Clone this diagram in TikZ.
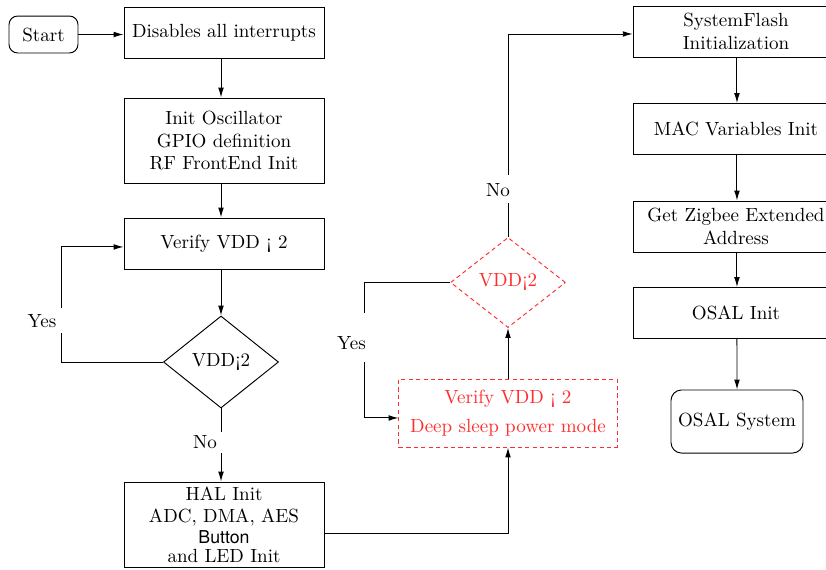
\documentclass[tikz,border=0pt]{standalone}
\usepackage{fontspec}
\newfontfamily\btnfont{TeX Gyre Heros}
\usetikzlibrary{shapes.geometric,arrows.meta}
\definecolor{myred}{RGB}{255,45,45}
\begin{document}
\begin{tikzpicture}[x=0.525pt,y=-0.525pt,
  line width=0.5pt,
  every node/.style={font=\fontsize{10}{12}\selectfont, align=center, inner sep=0pt},
  box/.style={draw, rectangle, minimum width=105pt, minimum height=26.8pt},
  rbox/.style={draw, rectangle, minimum width=108pt, minimum height=26.8pt},
  term/.style={draw, rectangle, rounded corners=4.5pt},
  dec/.style={draw, diamond, minimum width=60.4pt, minimum height=48.3pt},
  redbox/.style={draw=myred, text=myred, dash pattern=on 2.2pt off 1.7pt, rectangle, minimum width=114.5pt, minimum height=35.7pt},
  reddec/.style={draw=myred, text=myred, dash pattern=on 2.2pt off 1.7pt, diamond, minimum width=60.4pt, minimum height=47.3pt},
  arr/.style={-{Latex[length=5.2pt,width=3pt]}},
  lbl/.style={fill=white, inner xsep=3pt, inner ysep=0pt}
]
\useasboundingbox (0,0) rectangle (826,569);

% left column
\node[term, minimum width=36.2pt, minimum height=19.4pt] (start) at (43.5,34.5) {Start};
\node[box] (dis) at (224,32.5) {Disables all interrupts};
\node[box, minimum height=44.6pt] (osc) at (224,140.5) {Init Oscillator\\GPIO definition\\RF FrontEnd Init};
\node[box] (ver) at (224,243.5) {Verify VDD ¡ 2};
\node[dec] (dia) at (221,362) {VDD¡2};
\node[box, minimum height=44.6pt] (hal) at (224,524.5) {HAL Init\\[-0.3pt]ADC, DMA, AES\\[-1pt]{\btnfont\fontsize{9.3}{11}\selectfont Button}\\[-2pt]and LED Init};

% middle
\node[redbox] (rb) at (508,413) {Verify VDD ¡ 2\\[3pt]Deep sleep power mode};
\node[reddec] (rd) at (508,282.5) {VDD¡2};

% right column
\node[rbox] (sf) at (736,31.5) {SystemFlash\\Initialization};
\node[rbox] (mac) at (736,129) {MAC Variables Init};
\node[rbox] (zig) at (736,226.5) {Get Zigbee Extended\\Address};
\node[rbox] (osal) at (736,313) {OSAL Init};
\node[term, rounded corners=5.5pt, minimum width=69.3pt, minimum height=33.1pt] (sys) at (737,421.5) {OSAL System};

\coordinate (ly) at (61,0);
\coordinate (ry) at (364,0);

% connectors
\draw[arr] (start.east) -- (start.east -| dis.west);
\draw[arr] (dis.south -| dia.north) -- (osc.north -| dia.north);
\draw[arr] (osc.south -| dia.north) -- (ver.north -| dia.north);
\draw[arr] (ver.south -| dia.north) -- (dia.north);
\draw[arr] (dia.west) -- (dia.west -| ly)
  -- node[lbl, pos=0.36, xshift=-10pt, text height=10.2pt, text depth=2.9pt] {Yes} ([yshift=-1.8pt]ver.west -| ly)
  -- ([yshift=-1.8pt]ver.west);
\draw[arr] (dia.south) -- node[lbl, pos=0.47, xshift=-8.4pt, text height=8.4pt, text depth=2.6pt] {No} (dia.south |- hal.north);

\draw[arr] ([yshift=-4.5pt]hal.east) -- ([yshift=-4.5pt]hal.east -| rb.south) -- (rb.south);
\draw[arr] (rb.north) -- (rd.south);
\draw[arr] (rd.west) -- (rd.west -| ry)
  -- node[lbl, pos=0.408, xshift=-6.6pt, text height=19.2pt, text depth=6.6pt] {Yes} ([yshift=-2.6pt]rb.west -| ry)
  -- ([yshift=-2.6pt]rb.west);
\draw[arr] (rd.north) -- node[lbl, pos=0.236, xshift=-5.3pt, text height=11pt, text depth=3.7pt] {No} ([yshift=-1.3pt]sf.west -| rd.north)
  -- ([yshift=-1.3pt]sf.west);

\draw[arr] ([xshift=0.5pt]sf.south) -- ([xshift=0.5pt]mac.north);
\draw[arr] ([xshift=0.5pt]mac.south) -- ([xshift=0.5pt]zig.north);
\draw[arr] ([xshift=0.5pt]zig.south) -- ([xshift=0.5pt]osal.north);
\draw[arr] ([xshift=0.5pt]osal.south) -- (sys.north);
\end{tikzpicture}
\end{document}
